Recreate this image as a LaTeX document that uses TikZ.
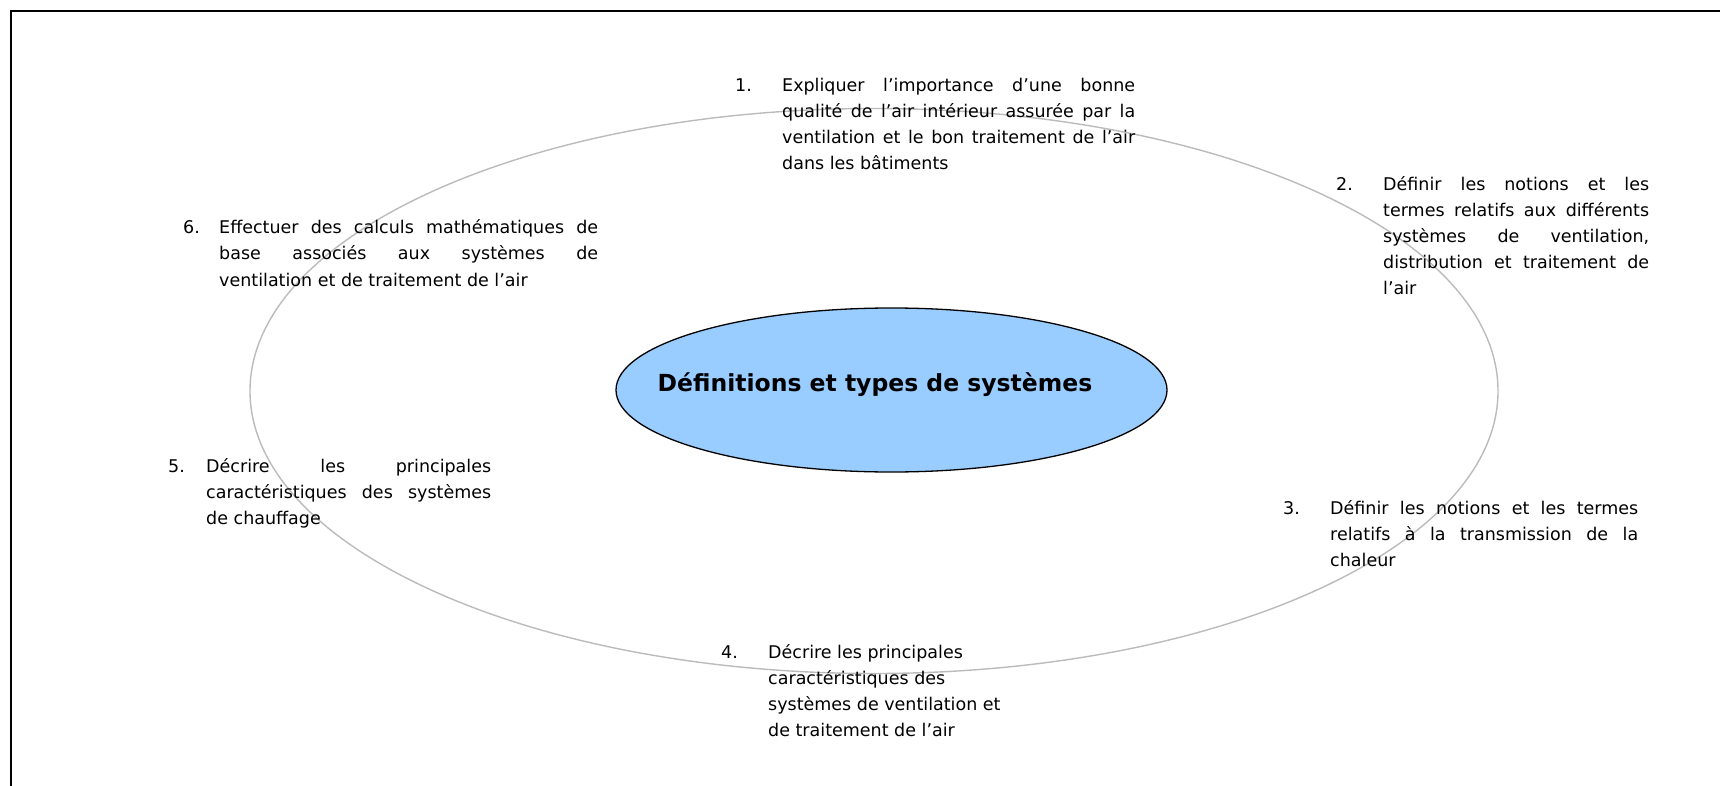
\documentclass[tikz,border=0pt]{standalone}
\usepackage{fontspec}
\setmainfont{DejaVu Sans}
\usetikzlibrary{shapes.geometric}
\definecolor{ringgray}{HTML}{BBBBBB}
\definecolor{hubblue}{HTML}{99CCFF}
\newcommand{\bodyfont}{\fontsize{17.5}{26}\selectfont}
\tikzset{
  numlbl/.style={anchor=base west, inner sep=0pt, font=\bodyfont},
  txtlbl/.style={anchor=base west, inner sep=0pt, font=\bodyfont},
}
\newcommand{\jbox}[2]{\begin{minipage}[t]{#1pt}\bodyfont\setlength{\parfillskip}{0pt plus 1fil}\spaceskip=0.318em plus 2em minus 0.05em #2\end{minipage}}
\begin{document}
\begin{tikzpicture}[x=1pt,y=-1pt]
\useasboundingbox (0,0) rectangle (1720,786);
% frame
\draw[line width=2pt] (10.5,786) -- (10.5,11) -- (1720,11);
% outer ring
\node[draw=ringgray, line width=1.4pt, ellipse, minimum width=1248pt, minimum height=565pt, inner sep=0pt] (ring) at (874,391) {};
% hub
\node[draw=black, line width=1.3pt, fill=hubblue, ellipse, minimum width=551pt, minimum height=164pt, inner sep=0pt] (hub) at (891.5,390) {};
\node[anchor=base, inner sep=0pt, font=\fontsize{23.5}{28}\selectfont\bfseries] (title) at (875,391) {Définitions et types de systèmes};
% 1
\node[numlbl] (n1) at (735,91.5) {1.};
\node[txtlbl] (t1) at (782,91.5) {\jbox{353}{Expliquer l’importance d’une bonne\linebreak qualité de l’air intérieur assurée par la\linebreak ventilation et le bon traitement de l’air\linebreak dans les bâtiments}};
% 2
\node[numlbl] (n2) at (1336,190.5) {2.};
\node[txtlbl] (t2) at (1383,190.5) {\jbox{266}{Définir les notions et les\linebreak termes relatifs aux différents\linebreak systèmes de ventilation,\linebreak distribution et traitement de\linebreak l’air}};
% 3
\node[numlbl] (n3) at (1283,514.5) {3.};
\node[txtlbl] (t3) at (1330,514.5) {\jbox{308}{Définir les notions et les termes\linebreak relatifs à la transmission de la\linebreak chaleur}};
% 4
\node[numlbl] (n4) at (721,658) {4.};
\node[txtlbl] (t4) at (768,658) {\begin{minipage}[t]{270pt}\raggedright\bodyfont Décrire les principales\\ caractéristiques des\\ systèmes de ventilation et\\ de traitement de l’air\end{minipage}};
% 5
\node[numlbl] (n5) at (168,472) {5.};
\node[txtlbl] (t5) at (206,472) {\jbox{285}{Décrire les principales\linebreak caractéristiques des systèmes\linebreak de chauffage}};
% 6
\node[numlbl] (n6) at (183,234) {6.};
\node[txtlbl] (t6) at (219,234) {\jbox{379}{Effectuer des calculs mathématiques de\linebreak base associés aux systèmes de\linebreak ventilation et de traitement de l’air}};
\end{tikzpicture}
\end{document}
